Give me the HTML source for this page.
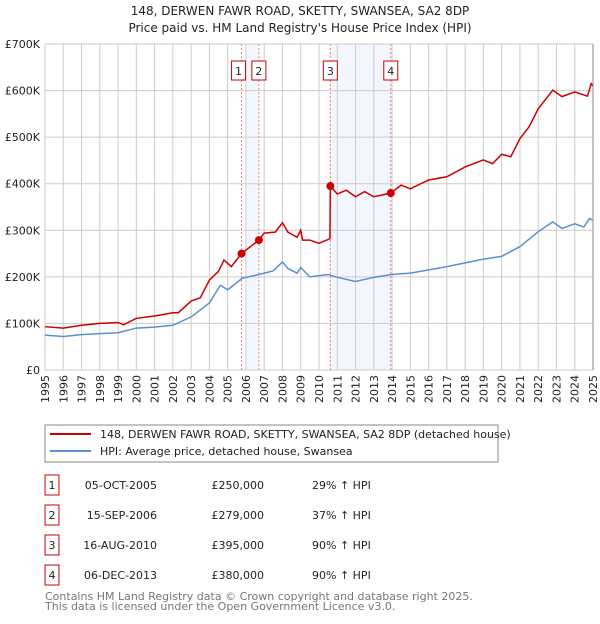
<!DOCTYPE html>
<html><head><meta charset="utf-8"><style>
body{margin:0;background:#fff;width:600px;height:620px;overflow:hidden;font-family:"DejaVu Sans","Liberation Sans",sans-serif;}
svg text{font-family:"DejaVu Sans","Liberation Sans",sans-serif;}
</style></head><body>
<svg id="c" width="600" height="620" viewBox="0 0 600 620">
<text x="300" y="15" text-anchor="middle" font-size="12" fill="#222">148, DERWEN FAWR ROAD, SKETTY, SWANSEA, SA2 8DP</text>
<text x="300" y="32" text-anchor="middle" font-size="12" fill="#222">Price paid vs. HM Land Registry's House Price Index (HPI)</text>
<g id="plot"></g>
<rect x="45" y="425" width="453" height="37" fill="none" stroke="#888"/>
<line x1="50" y1="434" x2="91" y2="434" stroke="#cc0000" stroke-width="2"/>
<text x="100" y="438" font-size="11" fill="#222">148, DERWEN FAWR ROAD, SKETTY, SWANSEA, SA2 8DP (detached house)</text>
<line x1="50" y1="451" x2="91" y2="451" stroke="#5b8fd4" stroke-width="2"/>
<text x="100" y="455" font-size="11" fill="#222">HPI: Average price, detached house, Swansea</text>
<g id="table" font-size="11" fill="#222"></g>
<text x="45" y="600" font-size="11" fill="#777">Contains HM Land Registry data © Crown copyright and database right 2025.</text>
<text x="45" y="610" font-size="11" fill="#777">This data is licensed under the Open Government Licence v3.0.</text>
</svg>
<script>
const yTicks=[0,100,200,300,400,500,600,700];
const yTickLabels=["£0","£100K","£200K","£300K","£400K","£500K","£600K","£700K"];
const xYears=[1995,1996,1997,1998,1999,2000,2001,2002,2003,2004,2005,2006,2007,2008,2009,2010,2011,2012,2013,2014,2015,2016,2017,2018,2019,2020,2021,2022,2023,2024,2025];
const hpiT=[1995,1996,1997,1998,1999,2000,2001,2002,2003,2004,2004.6,2005,2005.8,2006.7,2007.5,2008,2008.3,2008.8,2009,2009.5,2010.5,2011,2012,2013,2014,2015,2016,2017,2018,2019,2020,2021,2022,2022.8,2023.3,2024,2024.5,2024.8,2025];
const hpiV=[75,72,76,78,80,90,92,96,114,144,182,172,197,205,213,232,218,208,220,200,205,199,190,199,205,208,215,222,230,238,244,265,297,318,304,314,307,325,322];
const priceT=[1995,1996,1997,1998,1999,1999.3,2000,2001,2002,2002.3,2003,2003.5,2004,2004.5,2004.8,2005.2,2005.76,2006.71,2007,2007.6,2008,2008.3,2008.8,2009,2009.1,2009.5,2010,2010.6,2010.62,2011,2011.5,2012,2012.5,2013,2013.93,2014.5,2015,2016,2017,2018,2019,2019.5,2020,2020.5,2021,2021.5,2022,2022.8,2023.3,2024,2024.7,2024.9,2025];
const priceV=[93,90,96,100,102,97,111,116,123,123,148,155,193,212,236,222,250,279,294,296,316,296,285,300,279,279,272,282,395,378,386,372,383,372,380,397,389,408,415,436,451,443,463,458,497,522,561,601,587,597,588,615,610];
const saleT=[2005.76,2006.71,2010.62,2013.93];
const saleV=[250,279,395,380];
const saleLabels=["1","2","3","4"];
const saleDates=["05-OCT-2005","15-SEP-2006","16-AUG-2010","06-DEC-2013"];
const salePrices=["£250,000","£279,000","£395,000","£380,000"];
const saleHpi=["29% ↑ HPI","37% ↑ HPI","90% ↑ HPI","90% ↑ HPI"];
const shadeRanges=[[2006.05,2006.71],[2010.64,2013.95]];

const NS="http://www.w3.org/2000/svg";
const X0=45,X1=593,Y0=370,Y1=44;
const xs=t=>X0+(t-1995)/30*(X1-X0);
const ys=v=>Y0-v/700*(Y0-Y1);
const g=document.getElementById('plot');
function mk(tag,attrs,parent){const e=document.createElementNS(NS,tag);for(const k in attrs)e.setAttribute(k,attrs[k]);(parent||g).appendChild(e);return e;}
shadeRanges.forEach(r=>{const e=mk('rect',{x:xs(r[0]),y:Y1,width:xs(r[1])-xs(r[0]),height:Y0-Y1,fill:'#f3f6fd'});

});
xYears.forEach(y=>{const e=mk('line',{x1:xs(y),x2:xs(y),y1:Y1,y2:Y0,stroke:'#ccc','stroke-width':1});


const t=mk('text',{x:0,y:0,'font-size':11,fill:'#222','text-anchor':'end',transform:`translate(${xs(y)+4},${Y0+5}) rotate(-90)`});
t.textContent=y;

});
yTicks.forEach((v,i)=>{const e=mk('line',{x1:X0,x2:X1,y1:ys(v),y2:ys(v),stroke:'#ccc','stroke-width':1});


const t=mk('text',{x:40,y:ys(v)+4,'font-size':11,fill:'#222','text-anchor':'end'});
t.textContent=yTickLabels[i];

});
saleT.forEach((t,i)=>{const e=mk('line',{x1:xs(t),x2:xs(t),y1:Y1,y2:Y0,stroke:'#f08080','stroke-width':1,'stroke-dasharray':'2,2'});


const bx=i===0?xs(t)-10:xs(t)-7;
const b=mk('rect',{x:bx,y:61,width:14,height:19,fill:'#fff',stroke:'#cc0000'});


const tx=mk('text',{x:bx+7,y:75,'font-size':11,fill:'#222','text-anchor':'middle'});
tx.textContent=saleLabels[i];

});
const hp=mk('polyline',{points:hpiT.map((t,i)=>xs(t)+','+ys(hpiV[i])).join(' '),fill:'none',stroke:'#5b8fd4','stroke-width':1.5});


const pp=mk('polyline',{points:priceT.map((t,i)=>xs(t)+','+ys(priceV[i])).join(' '),fill:'none',stroke:'#cc0000','stroke-width':1.5});


saleT.forEach((t,i)=>{const c=mk('circle',{cx:xs(t),cy:ys(saleV[i]),r:4,fill:'#cc0000'});

});
const ax=mk('line',{x1:X1,x2:X1,y1:Y1,y2:Y0,stroke:'#888'});


const tb=document.getElementById('table');
saleLabels.forEach((l,i)=>{const y=475+i*30;
const b=mk('rect',{x:45,y:y,width:14,height:20,fill:'#fff',stroke:'#cc0000'},tb);


const vals=[[l,52,'middle'],[saleDates[i],157,'end'],[salePrices[i],264,'end'],[saleHpi[i],312,'start']];
vals.forEach(v=>{const t=mk('text',{x:v[1],y:y+14,'text-anchor':v[2]},tb);t.textContent=v[0];

});});
</script>
</body></html>
